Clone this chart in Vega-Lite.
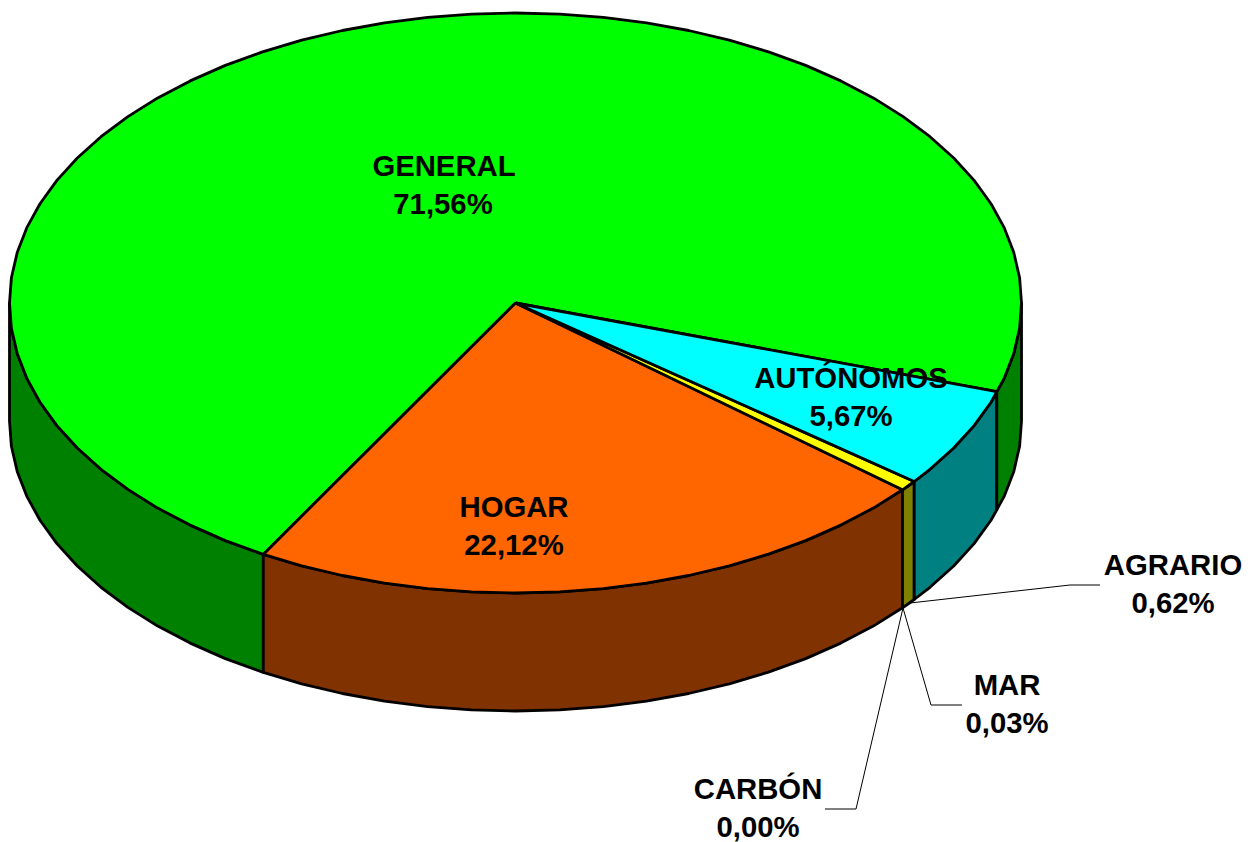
{
"$schema":"https://vega.github.io/schema/vega-lite/v6.json",
"width":1258,"height":842,"padding":0,"autosize":{"type":"none"},
"background":"white",
"config":{"view":{"stroke":null}},
"resolve":{"scale":{"fill":"independent"}},
"datasets":{
"sides":[
{"p":"GENERAL izq","x":-506,"y":0,"b":-118},{"p":"GENERAL izq","x":-504.1,"y":-25.3,"b":-143.3},{"p":"GENERAL izq","x":-498.3,"y":-50.4,"b":-168.4},{"p":"GENERAL izq","x":-488.8,"y":-75.1,"b":-193.1},{"p":"GENERAL izq","x":-475.5,"y":-99.2,"b":-217.2},{"p":"GENERAL izq","x":-458.6,"y":-122.6,"b":-240.6},{"p":"GENERAL izq","x":-438.2,"y":-145,"b":-263},{"p":"GENERAL izq","x":-414.5,"y":-166.3,"b":-284.3},{"p":"GENERAL izq","x":-387.6,"y":-186.4,"b":-304.4},{"p":"GENERAL izq","x":-357.8,"y":-205.1,"b":-323.1},{"p":"GENERAL izq","x":-325.3,"y":-222.1,"b":-340.1},{"p":"GENERAL izq","x":-290.2,"y":-237.6,"b":-355.6},{"p":"GENERAL izq","x":-252.2,"y":-251.4,"b":-369.4},
{"p":"HOGAR","x":-252.2,"y":-251.4,"b":-369.4},{"p":"HOGAR","x":-213.8,"y":-262.8,"b":-380.8},{"p":"HOGAR","x":-173.1,"y":-272.5,"b":-390.5},{"p":"HOGAR","x":-131,"y":-280.1,"b":-398.1},{"p":"HOGAR","x":-87.8,"y":-285.6,"b":-403.6},{"p":"HOGAR","x":-44.1,"y":-288.9,"b":-406.9},{"p":"HOGAR","x":0,"y":-290,"b":-408},{"p":"HOGAR","x":44.1,"y":-288.9,"b":-406.9},{"p":"HOGAR","x":87.8,"y":-285.6,"b":-403.6},{"p":"HOGAR","x":131,"y":-280.1,"b":-398.1},{"p":"HOGAR","x":173.1,"y":-272.5,"b":-390.5},{"p":"HOGAR","x":213.8,"y":-262.8,"b":-380.8},{"p":"HOGAR","x":253,"y":-251.1,"b":-369.1},{"p":"HOGAR","x":290.2,"y":-237.6,"b":-355.6},{"p":"HOGAR","x":325.3,"y":-222.1,"b":-340.1},{"p":"HOGAR","x":357.8,"y":-205.1,"b":-323.1},{"p":"HOGAR","x":387,"y":-186.8,"b":-304.8},
{"p":"AGRARIO","x":387,"y":-186.8,"b":-304.8},{"p":"AGRARIO","x":393.2,"y":-182.5,"b":-300.5},{"p":"AGRARIO","x":398.7,"y":-178.5,"b":-296.5},
{"p":"AUTONOMOS","x":398.7,"y":-178.5,"b":-296.5},{"p":"AUTONOMOS","x":414.5,"y":-166.3,"b":-284.3},{"p":"AUTONOMOS","x":438.2,"y":-145,"b":-263},{"p":"AUTONOMOS","x":458.6,"y":-122.6,"b":-240.6},{"p":"AUTONOMOS","x":475.5,"y":-99.2,"b":-217.2},{"p":"AUTONOMOS","x":481.3,"y":-88.7,"b":-206.7},
{"p":"GENERAL der","x":481.3,"y":-88.7,"b":-206.7},{"p":"GENERAL der","x":488.8,"y":-75.1,"b":-193.1},{"p":"GENERAL der","x":498.3,"y":-50.4,"b":-168.4},{"p":"GENERAL der","x":504.1,"y":-25.3,"b":-143.3},{"p":"GENERAL der","x":506,"y":0,"b":-118}
],
"tops":[
{"p":"GENERAL","i":0,"x":0,"y":0},{"p":"GENERAL","i":1,"x":481.3,"y":-88.7},{"p":"GENERAL","i":2,"x":488.8,"y":-75.1},{"p":"GENERAL","i":3,"x":498.3,"y":-50.4},{"p":"GENERAL","i":4,"x":504.1,"y":-25.3},{"p":"GENERAL","i":5,"x":506,"y":0},{"p":"GENERAL","i":6,"x":504.1,"y":25.3},{"p":"GENERAL","i":7,"x":498.3,"y":50.4},{"p":"GENERAL","i":8,"x":488.8,"y":75.1},{"p":"GENERAL","i":9,"x":475.5,"y":99.2},{"p":"GENERAL","i":10,"x":458.6,"y":122.6},{"p":"GENERAL","i":11,"x":438.2,"y":145},{"p":"GENERAL","i":12,"x":414.5,"y":166.3},{"p":"GENERAL","i":13,"x":387.6,"y":186.4},{"p":"GENERAL","i":14,"x":357.8,"y":205.1},{"p":"GENERAL","i":15,"x":325.3,"y":222.1},{"p":"GENERAL","i":16,"x":290.2,"y":237.6},{"p":"GENERAL","i":17,"x":253,"y":251.1},{"p":"GENERAL","i":18,"x":213.8,"y":262.8},{"p":"GENERAL","i":19,"x":173.1,"y":272.5},{"p":"GENERAL","i":20,"x":131,"y":280.1},{"p":"GENERAL","i":21,"x":87.8,"y":285.6},{"p":"GENERAL","i":22,"x":44.1,"y":288.9},{"p":"GENERAL","i":23,"x":0,"y":290},{"p":"GENERAL","i":24,"x":-44.1,"y":288.9},{"p":"GENERAL","i":25,"x":-87.8,"y":285.6},{"p":"GENERAL","i":26,"x":-131,"y":280.1},{"p":"GENERAL","i":27,"x":-173.1,"y":272.5},{"p":"GENERAL","i":28,"x":-213.8,"y":262.8},{"p":"GENERAL","i":29,"x":-253,"y":251.1},{"p":"GENERAL","i":30,"x":-290.2,"y":237.6},{"p":"GENERAL","i":31,"x":-325.3,"y":222.1},{"p":"GENERAL","i":32,"x":-357.8,"y":205.1},{"p":"GENERAL","i":33,"x":-387.6,"y":186.4},{"p":"GENERAL","i":34,"x":-414.5,"y":166.3},{"p":"GENERAL","i":35,"x":-438.2,"y":145},{"p":"GENERAL","i":36,"x":-458.6,"y":122.6},{"p":"GENERAL","i":37,"x":-475.5,"y":99.2},{"p":"GENERAL","i":38,"x":-488.8,"y":75.1},{"p":"GENERAL","i":39,"x":-498.3,"y":50.4},{"p":"GENERAL","i":40,"x":-504.1,"y":25.3},{"p":"GENERAL","i":41,"x":-506,"y":0},{"p":"GENERAL","i":42,"x":-504.1,"y":-25.3},{"p":"GENERAL","i":43,"x":-498.3,"y":-50.4},{"p":"GENERAL","i":44,"x":-488.8,"y":-75.1},{"p":"GENERAL","i":45,"x":-475.5,"y":-99.2},{"p":"GENERAL","i":46,"x":-458.6,"y":-122.6},{"p":"GENERAL","i":47,"x":-438.2,"y":-145},{"p":"GENERAL","i":48,"x":-414.5,"y":-166.3},{"p":"GENERAL","i":49,"x":-387.6,"y":-186.4},{"p":"GENERAL","i":50,"x":-357.8,"y":-205.1},{"p":"GENERAL","i":51,"x":-325.3,"y":-222.1},{"p":"GENERAL","i":52,"x":-290.2,"y":-237.6},{"p":"GENERAL","i":53,"x":-252.2,"y":-251.4},{"p":"GENERAL","i":54,"x":0,"y":0},
{"p":"HOGAR","i":0,"x":0,"y":0},{"p":"HOGAR","i":1,"x":-252.2,"y":-251.4},{"p":"HOGAR","i":2,"x":-213.8,"y":-262.8},{"p":"HOGAR","i":3,"x":-173.1,"y":-272.5},{"p":"HOGAR","i":4,"x":-131,"y":-280.1},{"p":"HOGAR","i":5,"x":-87.8,"y":-285.6},{"p":"HOGAR","i":6,"x":-44.1,"y":-288.9},{"p":"HOGAR","i":7,"x":0,"y":-290},{"p":"HOGAR","i":8,"x":44.1,"y":-288.9},{"p":"HOGAR","i":9,"x":87.8,"y":-285.6},{"p":"HOGAR","i":10,"x":131,"y":-280.1},{"p":"HOGAR","i":11,"x":173.1,"y":-272.5},{"p":"HOGAR","i":12,"x":213.8,"y":-262.8},{"p":"HOGAR","i":13,"x":253,"y":-251.1},{"p":"HOGAR","i":14,"x":290.2,"y":-237.6},{"p":"HOGAR","i":15,"x":325.3,"y":-222.1},{"p":"HOGAR","i":16,"x":357.8,"y":-205.1},{"p":"HOGAR","i":17,"x":387,"y":-186.8},{"p":"HOGAR","i":18,"x":0,"y":0},
{"p":"AGRARIO","i":0,"x":0,"y":0},{"p":"AGRARIO","i":1,"x":387,"y":-186.8},{"p":"AGRARIO","i":2,"x":393.2,"y":-182.5},{"p":"AGRARIO","i":3,"x":398.7,"y":-178.5},{"p":"AGRARIO","i":4,"x":0,"y":0},
{"p":"AUTONOMOS","i":0,"x":0,"y":0},{"p":"AUTONOMOS","i":1,"x":398.7,"y":-178.5},{"p":"AUTONOMOS","i":2,"x":414.5,"y":-166.3},{"p":"AUTONOMOS","i":3,"x":438.2,"y":-145},{"p":"AUTONOMOS","i":4,"x":458.6,"y":-122.6},{"p":"AUTONOMOS","i":5,"x":475.5,"y":-99.2},{"p":"AUTONOMOS","i":6,"x":481.3,"y":-88.7},{"p":"AUTONOMOS","i":7,"x":0,"y":0}
],
"leaders":[
{"p":"AGRARIO","i":0,"x":394.5,"y":-300},{"p":"AGRARIO","i":1,"x":554.5,"y":-282},{"p":"AGRARIO","i":2,"x":584.5,"y":-282},
{"p":"MAR","i":0,"x":387.5,"y":-305},{"p":"MAR","i":1,"x":415.5,"y":-402},{"p":"MAR","i":2,"x":446.5,"y":-402},
{"p":"CARBON","i":0,"x":387.5,"y":-305},{"p":"CARBON","i":1,"x":340.5,"y":-506},{"p":"CARBON","i":2,"x":309.5,"y":-506}
],
"labels":[
{"t":"GENERAL","x":-71.5,"y":136},{"t":"71,56%","x":-72.5,"y":98},
{"t":"AUTÓNOMOS","x":335.5,"y":-76},{"t":"5,67%","x":335.5,"y":-114},
{"t":"HOGAR","x":-1.5,"y":-205},{"t":"22,12%","x":-1.5,"y":-243},
{"t":"AGRARIO","x":657.5,"y":-263},{"t":"0,62%","x":657.5,"y":-301},
{"t":"MAR","x":491.5,"y":-383},{"t":"0,03%","x":491.5,"y":-421},
{"t":"CARBÓN","x":242.5,"y":-487},{"t":"0,00%","x":242.5,"y":-525}
]
},
"encoding":{
"x":{"field":"x","type":"quantitative","scale":{"domain":[-515.5,742.5],"nice":false,"zero":false},"axis":null},
"y":{"field":"y","type":"quantitative","scale":{"domain":[-539,303],"nice":false,"zero":false},"axis":null}
},
"layer":[
{"data":{"name":"sides"},
"mark":{"type":"area","stroke":"black","strokeWidth":2.8,"strokeJoin":"round","orient":"vertical"},
"encoding":{
"y2":{"field":"b"},
"detail":{"field":"p","type":"nominal"},
"fill":{"field":"p","type":"nominal","legend":null,"scale":{"domain":["GENERAL izq","HOGAR","AGRARIO","AUTONOMOS","GENERAL der"],"range":["#008000","#803300","#808000","#008080","#008000"]}}
}},
{"data":{"name":"tops"},
"mark":{"type":"line","stroke":"black","strokeWidth":2.8,"strokeJoin":"round"},
"encoding":{
"order":{"field":"i","type":"quantitative"},
"detail":{"field":"p","type":"nominal"},
"fill":{"field":"p","type":"nominal","legend":null,"scale":{"domain":["GENERAL","HOGAR","AGRARIO","AUTONOMOS"],"range":["#00ff00","#ff6600","#ffff00","#00ffff"]}}
}},
{"data":{"name":"leaders"},
"mark":{"type":"line","stroke":"black","strokeWidth":1},
"encoding":{
"order":{"field":"i","type":"quantitative"},
"detail":{"field":"p","type":"nominal"}
}},
{"data":{"name":"labels"},
"mark":{"type":"text","font":"Liberation Sans","fontWeight":"bold","fontSize":29.3,"color":"black","align":"center","baseline":"middle","dy":0},
"encoding":{"text":{"field":"t","type":"nominal"}}}
]
}
